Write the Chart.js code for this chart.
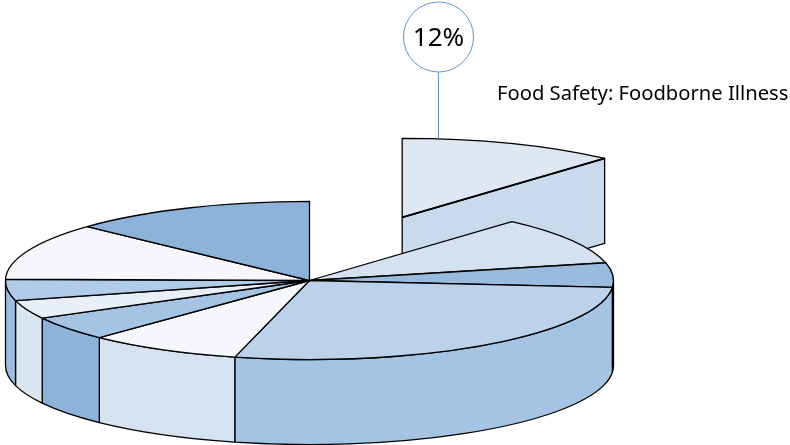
<!DOCTYPE html>
<html>
<head>
<meta charset="utf-8">
<style>html,body{margin:0;padding:0;background:#fff}canvas{display:block}</style>
<script src="https://cdn.jsdelivr.net/npm/chart.js@4"></script>
</head>
<body>
<div style="width:790px;height:445px"><canvas id="c" width="790" height="445"></canvas></div>
<script>
const categories = ["Food Safety: Foodborne Illness","Issue 2","Issue 3","Issue 4","Issue 5","Issue 6","Issue 7","Issue 8","Issue 9","Issue 10"];
const shares = [11.6, 9.8, 5.0, 27.55, 8.2, 4.95, 3.8, 4.35, 11.7, 13.05];
const topColors = ["#dde8f3","#d3e1f1","#99bbdd","#bcd1ea","#f5f7fb","#a5c4e4","#e9eff8","#b0cce8","#f5f7fb","#8db3db"];
const wallColors = ["#c9daec","#c9daec","#7f9fc4","#a5c4e4","#d4e2f2","#8db3db","#dbe6f3","#9cbde0","#dbe6f3","#8db3db"];
const explodedIndex = 0;

const SQUASH = 0.26, DEPTH = 85, EXPLODE = 260, OUTER = 304, LINE = "#000", CALL = "#5f95c9";

const pie3d = {
  id: "pie3d",
  beforeDatasetsDraw(chart) {
    const ctx = chart.ctx, arcs = chart.getDatasetMeta(0).data;
    const cy = arcs[0].y, ry = a => a.outerRadius * SQUASH;
    const shift = a => {
      const mid = (a.startAngle + a.endAngle) / 2;
      return { x: Math.cos(mid) * EXPLODE, y: Math.sin(mid) * EXPLODE * SQUASH };
    };
    const drawTop = (a, dx, dy) => {
      ctx.save();
      ctx.translate(dx, cy + dy);
      ctx.scale(1, SQUASH);
      ctx.translate(0, -cy);
      a.draw(ctx);
      ctx.restore();
      ctx.beginPath();
      ctx.moveTo(a.x + dx, a.y + dy);
      ctx.ellipse(a.x + dx, a.y + dy, a.outerRadius, ry(a), 0, a.startAngle, a.endAngle);
      ctx.closePath();
      ctx.stroke();
    };
    ctx.save();
    ctx.strokeStyle = LINE;
    ctx.lineWidth = 1.3;
    ctx.lineJoin = "round";

    // exploded slice: radial cut face, then top
    const ex = arcs[explodedIndex], s = shift(ex);
    const ox = ex.x + s.x, oy = ex.y + s.y;
    const rimX = ox + Math.cos(ex.endAngle) * ex.outerRadius;
    const rimY = oy + Math.sin(ex.endAngle) * ry(ex);
    ctx.beginPath();
    ctx.moveTo(ox, oy);
    ctx.lineTo(rimX, rimY);
    ctx.lineTo(rimX, rimY + DEPTH);
    ctx.lineTo(ox, oy + DEPTH);
    ctx.closePath();
    ctx.fillStyle = wallColors[explodedIndex];
    ctx.fill();
    ctx.stroke();
    drawTop(ex, s.x, s.y);
    ctx.save();
    ctx.lineWidth = 2;
    ctx.beginPath();
    ctx.moveTo(ox, oy);
    ctx.lineTo(rimX, rimY);
    ctx.stroke();
    ctx.restore();

    // outer walls of the front half
    arcs.forEach((a, i) => {
      if (i === explodedIndex) return;
      const from = Math.max(a.startAngle, 0), to = Math.min(a.endAngle, Math.PI);
      if (to <= from) return;
      ctx.beginPath();
      ctx.ellipse(a.x, a.y, a.outerRadius, ry(a), 0, from, to);
      ctx.ellipse(a.x, a.y + DEPTH, a.outerRadius, ry(a), 0, to, from, true);
      ctx.closePath();
      ctx.fillStyle = wallColors[i];
      ctx.fill();
      ctx.stroke();
    });

    // top faces
    arcs.forEach((a, i) => { if (i !== explodedIndex) drawTop(a, 0, 0); });
    ctx.restore();
    return false;
  },
  afterDraw(chart) {
    const ctx = chart.ctx;
    const total = shares.reduce((p, v) => p + v, 0);
    const bx = 438.5, by = 37, br = 35;
    ctx.save();
    ctx.strokeStyle = CALL;
    ctx.lineWidth = 1;
    ctx.beginPath();
    ctx.arc(bx, by, br, 0, Math.PI * 2);
    ctx.moveTo(bx, by + br);
    ctx.lineTo(bx, 138);
    ctx.stroke();
    ctx.fillStyle = "#000";
    ctx.textBaseline = "middle";
    ctx.textAlign = "center";
    ctx.font = '26px "Noto Sans"';
    ctx.fillText(Math.round(shares[explodedIndex] / total * 100) + "%", bx, by + 2);
    ctx.textAlign = "left";
    ctx.font = '20.2px "Noto Sans"';
    ctx.fillText(categories[explodedIndex], 497, 94);
    ctx.restore();
  }
};

new Chart(document.getElementById("c"), {
  type: "pie",
  data: {
    labels: categories,
    datasets: [{ data: shares, backgroundColor: topColors, borderWidth: 0 }]
  },
  options: {
    responsive: false,
    animation: false,
    radius: OUTER,
    rotation: 0,
    layout: { padding: { top: 116, right: 171, left: 0, bottom: 0 } },
    plugins: { legend: { display: false }, tooltip: { enabled: false } },
    events: []
  },
  plugins: [pie3d]
});
</script>
</body>
</html>
